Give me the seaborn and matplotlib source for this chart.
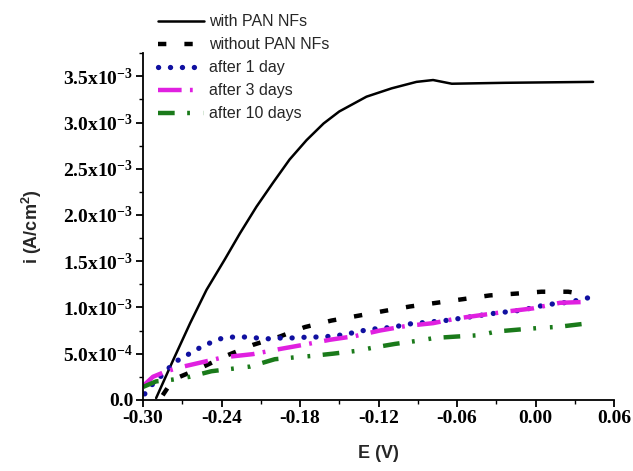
import numpy as np
import pandas as pd
import matplotlib
matplotlib.use('Agg')
import matplotlib.pyplot as plt
import seaborn as sns
from matplotlib.ticker import MultipleLocator, FuncFormatter

# values
e_with = [-0.290, -0.277, -0.264, -0.2515, -0.2375, -0.226, -0.2133, -0.2006, -0.188,
          -0.175, -0.162, -0.150, -0.1292, -0.110, -0.091, -0.0783, -0.064,
          -0.0235, 0.044]
i_with = [0.00002, 0.00043, 0.00083, 0.00119, 0.00152, 0.00180, 0.00209, 0.00235, 0.00260,
          0.00281, 0.00299, 0.00312, 0.00328, 0.00337, 0.00344, 0.00346, 0.00342,
          0.00343, 0.00344]

e_without = [-0.285, -0.277, -0.2567, -0.236, -0.216, -0.1955, -0.1764, -0.156, -0.1356,
             -0.1152, -0.0961, -0.0757, -0.0553, -0.035, -0.0145, 0.0046, 0.025, 0.038]
i_without = [0.00005, 0.00022, 0.00034, 0.00048, 0.000595, 0.000685, 0.000787, 0.000858,
             0.00091, 0.000963, 0.00101, 0.00105, 0.00109, 0.00113, 0.00115, 0.00117,
             0.00117, 0.00114]

e_1day = [-0.2987, -0.291, -0.2834, -0.277, -0.268, -0.2605, -0.2515, -0.2414, -0.2312,
          -0.2223, -0.2133, -0.2031, -0.1942, -0.184, -0.1738, -0.165, -0.1547, -0.1445,
          -0.1356, -0.1254, -0.1165, -0.1076, -0.0974, -0.068, -0.0489, -0.0298, -0.0107,
          0.0084, 0.0275, 0.0377, 0.0466]
i_1day = [0.000065, 0.00020, 0.00029, 0.00040, 0.00047, 0.000535, 0.00060, 0.00066, 0.00068,
          0.00068, 0.00067, 0.00066, 0.00067, 0.00067, 0.00068, 0.00068, 0.00069, 0.00071,
          0.00074, 0.000765, 0.000775, 0.00079, 0.00082, 0.00086, 0.00090, 0.00094, 0.00097,
          0.00103, 0.00106, 0.00110, 0.00111]

e_3days = [-0.300, -0.2924, -0.2821, -0.2694, -0.2388, -0.216, -0.1955, -0.1777, -0.1573,
           -0.138, -0.119, -0.0986, -0.0783, -0.0604, -0.040, -0.0197, -0.0018, 0.0186, 0.039]
i_3days = [0.00015, 0.00025, 0.00031, 0.00036, 0.00046, 0.000495, 0.00055, 0.000595, 0.00065,
           0.00069, 0.00075, 0.00080, 0.00083, 0.00088, 0.00092, 0.00096, 0.00099, 0.00105,
           0.00106]

e_10days = [-0.300, -0.290, -0.277, -0.2643, -0.2477, -0.230, -0.2184, -0.1993, -0.184,
            -0.1713, -0.1547, -0.1369, -0.1242, -0.1076, -0.0898, -0.077, -0.0604, -0.0426,
            -0.0298, -0.0133, 0.0046, 0.0173, 0.0352]
i_10days = [0.00014, 0.00020, 0.00022, 0.00025, 0.00031, 0.00034, 0.00036, 0.00044, 0.00046,
            0.000475, 0.00050, 0.00053, 0.000565, 0.000605, 0.00064, 0.00067, 0.000685, 0.00070,
            0.00074, 0.00076, 0.00078, 0.00079, 0.00082]

labels = ['with PAN NFs', 'without PAN NFs', 'after 1 day', 'after 3 days', 'after 10 days']

sns.set_style('ticks')
plt.rcParams['font.family'] = ['Liberation Sans', 'DejaVu Sans']
plt.rcParams['mathtext.default'] = 'regular'
plt.rcParams['lines.scale_dashes'] = False

fig = plt.figure(figsize=(6.33, 4.71), dpi=100)
ax = fig.add_axes([0.226, 0.151, 0.744, 0.736])

series = [
    (e_with, i_with, 'black', dict(linestyle='-', linewidth=1.8)),
    (e_without, i_without, 'black', dict(linestyle=(0, (6, 13)), linewidth=3.2)),
    (e_1day, i_1day, '#1010a0', dict(linestyle=(0, (0.1, 8.5)), linewidth=3.8,
                                     dash_capstyle='round')),
    (e_3days, i_3days, '#e020e0', dict(linestyle=(0, (17, 6, 2, 9)), linewidth=3.2)),
    (e_10days, i_10days, '#1a7a1a', dict(linestyle=(0, (12, 9, 2, 10, 2, 9)), linewidth=3.2)),
]

for (ex, iy, col, kw), lab in zip(series, labels):
    df = pd.DataFrame({'E': ex, 'i': iy})
    sns.lineplot(data=df, x='E', y='i', color=col, label=lab, ax=ax, sort=False, **kw)

ax.set_xlim(-0.30, 0.06)
ax.set_ylim(0, 0.00375)
ax.xaxis.set_major_locator(MultipleLocator(0.06))
ax.xaxis.set_minor_locator(MultipleLocator(0.03))
ax.yaxis.set_major_locator(MultipleLocator(0.0005))
ax.yaxis.set_minor_locator(MultipleLocator(0.00025))


def yfmt(v, pos):
    if abs(v) < 1e-12:
        return '0.0'
    exp = int(np.floor(np.log10(abs(v))))
    mant = v / 10 ** exp
    return '%.1fx10$^{%d}$' % (mant, exp)


ax.yaxis.set_major_formatter(FuncFormatter(yfmt))
ax.xaxis.set_major_formatter(FuncFormatter(lambda v, p: '%.2f' % v))

for lab in ax.get_xticklabels() + ax.get_yticklabels():
    lab.set_fontfamily('Liberation Serif')
    lab.set_fontweight('bold')
    lab.set_fontsize(14)

ax.tick_params(which='major', direction='out', length=5, width=1.3, colors='black', pad=2)
ax.tick_params(which='minor', direction='out', length=3, width=1.0, colors='black')
sns.despine(ax=ax)
for s in ['left', 'bottom']:
    ax.spines[s].set_linewidth(1.3)
    ax.spines[s].set_color('black')

ax.set_xlabel('E (V)', fontsize=13, fontweight='bold', labelpad=13)
ax.set_ylabel('i (A/cm$^2$)', fontsize=13, fontweight='bold', labelpad=14)

ax.legend(loc='upper left', bbox_to_anchor=(0.232, 0.993), bbox_transform=fig.transFigure,
          frameon=False, fontsize=11.5, handlelength=2.9, handletextpad=0.3,
          labelspacing=0.5, borderaxespad=0.3)

fig.savefig('out.png', dpi=100)
